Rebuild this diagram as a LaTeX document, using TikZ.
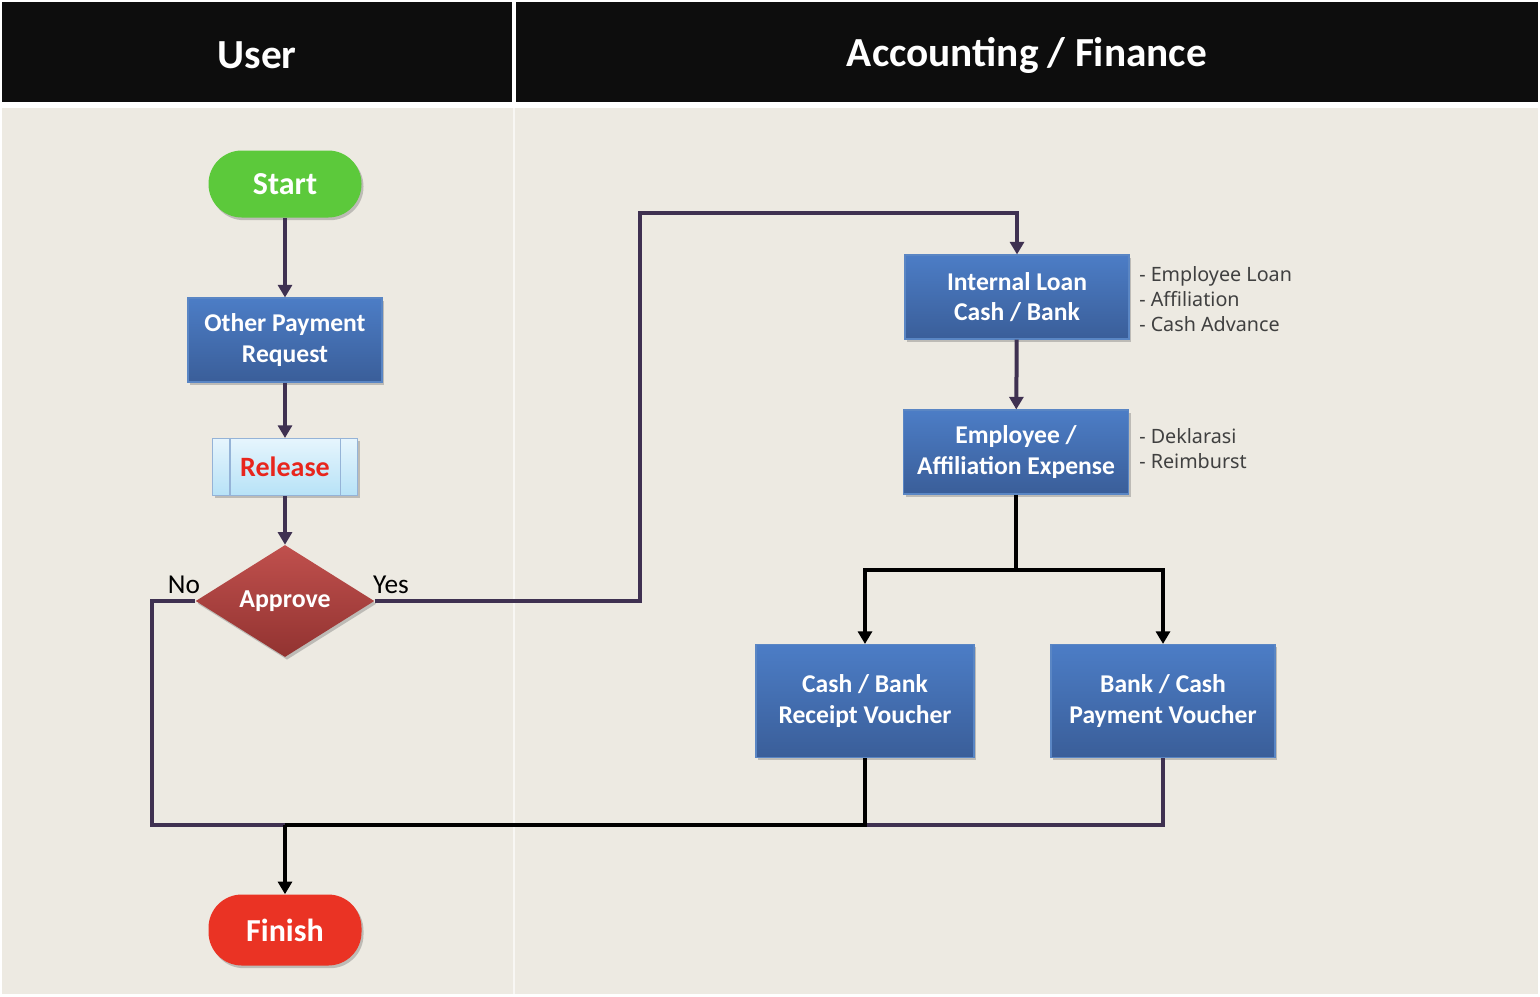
\documentclass[tikz,border=0pt]{standalone}
\usepackage{fontspec}
\setmainfont{Carlito}
\newfontfamily\notefont{Noto Sans}
\usetikzlibrary{arrows.meta,shapes.geometric,shadows}

\definecolor{lanebg}{HTML}{EDEAE2}
\definecolor{headbg}{HTML}{0D0D0D}
\definecolor{flowline}{HTML}{3F3151}
\definecolor{boxtop}{HTML}{4C7DC6}
\definecolor{boxbot}{HTML}{3A5E99}
\definecolor{boxedge}{HTML}{5A86C4}
\definecolor{startgreen}{HTML}{5CC93B}
\definecolor{finishred}{HTML}{EA3324}
\definecolor{dmtop}{HTML}{C0504D}
\definecolor{dmbot}{HTML}{923331}
\definecolor{reltop}{HTML}{E6F5FD}
\definecolor{relbot}{HTML}{B7E2F7}
\definecolor{reledge}{HTML}{95B3D7}
\definecolor{relred}{HTML}{E8251D}
\definecolor{notegray}{HTML}{404040}

\newcommand\headfont{\fontsize{31}{34}\selectfont\bfseries}
\newcommand\boxfont{\fontsize{19.2}{23}\selectfont\bfseries}
\newcommand\termfont{\fontsize{24}{27}\selectfont\bfseries}

\tikzset{
  shade/.style={drop shadow={shadow xshift=1.5pt,shadow yshift=-2pt,opacity=0.35,fill=black!60}},
  procbox/.style={rectangle,draw=boxedge,line width=0.8pt,top color=boxtop,bottom color=boxbot,
    text=white,font=\boxfont,align=center,inner sep=0pt,shade},
  termbox/.style={rectangle,rounded corners=25pt,text=white,font=\termfont,inner sep=0pt,
    minimum width=114.75pt,shade},
  flow/.style={draw=flowline,line width=3pt},
  bflow/.style={draw=black,line width=3.6pt},
  tip/.style={-{Triangle[width=10.5pt,length=9.5pt]}},
  note/.style={font=\notefont\fontsize{14.8}{18.75}\selectfont,text=notegray,align=left,anchor=north west,inner sep=0pt}
}

\begin{document}
\begin{tikzpicture}[x=0.75pt,y=-0.75pt]
\useasboundingbox (0,0) rectangle (1540,996);
\fill[white] (0,0) rectangle (1540,996);

% Lanes
\fill[headbg] (2,2) rectangle (512,102);
\fill[headbg] (516,2) rectangle (1538,102);
\fill[lanebg] (2,108) rectangle (1538,994);
\draw[white!60!lanebg,line width=1.5pt] (514,108) -- (514,994);
\node[text=white,font=\headfont] (userhead) at (257,55) {User};
\node[text=white,font=\headfont] (acchead) at (1027,55) {Accounting / Finance};

% User lane
\node[termbox,fill=startgreen,minimum height=50.25pt] (start) at (285,184) {Start};
\node[procbox,minimum width=145.5pt,minimum height=63pt] (request) at (285,340) {Other Payment\\Request};
\node[rectangle,draw=reledge,line width=0.8pt,top color=reltop,bottom color=relbot,shade,
  minimum width=108.75pt,minimum height=42.75pt,font=\fontsize{21}{24}\selectfont\bfseries,
  text=relred] (release) at (285,467) {Release};
\draw[reledge,line width=0.8pt] ([xshift=13.5pt]release.north west) -- ([xshift=13.5pt]release.south west);
\draw[reledge,line width=0.8pt] ([xshift=-13.5pt]release.north east) -- ([xshift=-13.5pt]release.south east);
\node[diamond,top color=dmtop,bottom color=dmbot,shade,minimum width=134pt,minimum height=75pt,
  inner sep=0pt,text=white,font=\fontsize{19.4}{22}\selectfont\bfseries] (approve) at (285,601) {Approve};
\node[font=\fontsize{20.5}{23}\selectfont] (nolbl) at (184,585) {No};
\node[font=\fontsize{20.5}{23}\selectfont] (yeslbl) at (391,585) {Yes};
\node[termbox,fill=finishred,minimum height=53.25pt] (finish) at (285,930) {Finish};

% Accounting lane
\node[procbox,minimum width=168pt,minimum height=63pt] (loan) at (1017,297) {Internal Loan\\Cash / Bank};
\node[procbox,minimum width=168.75pt,minimum height=63pt] (expense) at (1016,452) {Employee /\\Affiliation Expense};
\node[procbox,minimum width=163.5pt,minimum height=84.75pt] (receipt) at (865,701) {Cash / Bank\\Receipt Voucher};
\node[procbox,minimum width=168pt,minimum height=84.75pt] (payment) at (1163,701) {Bank / Cash\\Payment Voucher};
\node[note] (loannote) at (1139,266) {- Employee Loan\\- Affiliation\\- Cash Advance};
\node[note] (expnote) at (1139,428) {- Deklarasi\\- Reimburst};

% Connectors
\coordinate (yesa) at (640,601);
\coordinate (yesb) at (640,213);
\coordinate (nobend) at (152,601);
\coordinate (split) at (1016,570);
\coordinate (join) at (285,825);

\draw[flow,tip] (start) -- (request);
\draw[flow,tip] (request) -- (release);
\draw[flow,tip] (release) -- (approve);
\draw[flow,tip] (approve.east) -- (yesa) -- (yesb) -| (loan.north);
\draw[flow,tip] (loan) -- (expense);
\draw[flow] (approve.west) -- (nobend) |- (join);
\draw[flow] (payment.south) |- (receipt.south |- join);
\draw[bflow] (expense.south) -- (split);
\draw[bflow,tip] (split) -| (receipt.north);
\draw[bflow,tip] (split) -| (payment.north);
\draw[bflow] (receipt.south) |- (join);
\draw[bflow,tip] (join) -- (finish);
\end{tikzpicture}
\end{document}
